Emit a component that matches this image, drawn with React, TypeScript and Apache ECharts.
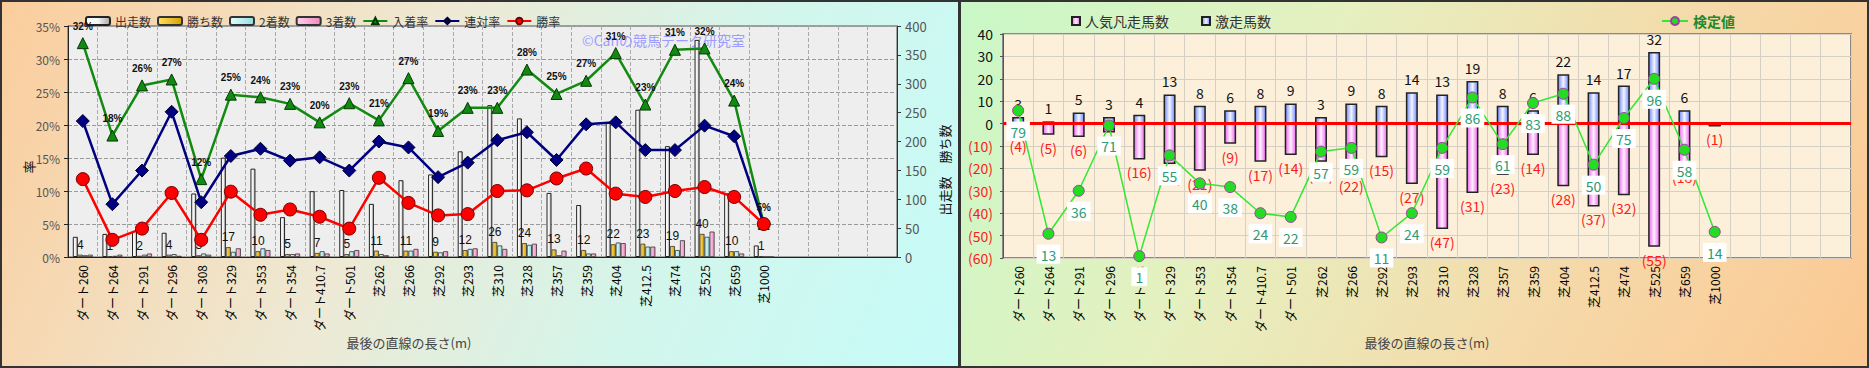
import React, { useEffect, useRef } from "react";
import * as echarts from "echarts";

const categories = [
  "ダート260", "ダート264", "ダート291", "ダート296", "ダート308", "ダート329",
  "ダート353", "ダート354", "ダート410.7", "ダート501", "芝262", "芝266",
  "芝292", "芝293", "芝310", "芝328", "芝357", "芝359", "芝404", "芝412.5",
  "芝474", "芝525", "芝659", "芝1000",
];
const emptySlots = ["", "", "", ""];

// left chart (counts on right axis, rates on left axis)
const starts = [35, 40, 45, 42, 110, 172, 153, 69, 114, 116, 92, 133, 143, 183, 263, 240, 111, 90, 233, 255, 192, 376, 110, 20];
const wins = [4, 1, 2, 4, 3, 17, 10, 5, 7, 5, 11, 11, 9, 12, 26, 24, 13, 12, 22, 23, 19, 40, 10, 1];
const seconds = [3, 2, 4, 5, 6, 9, 15, 5, 10, 10, 5, 11, 8, 14, 20, 21, 3, 6, 25, 18, 12, 35, 10, 0];
const thirds = [4, 4, 6, 2, 4, 15, 12, 6, 6, 12, 3, 14, 10, 15, 14, 23, 11, 6, 24, 18, 29, 44, 6, 0];
const placeRate = [32.4, 18.4, 26.0, 26.9, 11.8, 24.6, 24.2, 23.2, 20.4, 23.3, 20.7, 27.1, 19.1, 22.6, 22.6, 28.4, 24.7, 26.7, 30.9, 23.1, 31.4, 31.6, 23.7, 5.0];
const quinellaRate = [20.6, 8.0, 13.1, 22.0, 8.3, 15.3, 16.4, 14.6, 15.1, 13.1, 17.5, 16.6, 12.1, 14.3, 17.7, 18.9, 14.7, 20.1, 20.4, 16.2, 16.2, 19.9, 18.3, 5.0];
const winRate = [11.8, 2.6, 4.3, 9.7, 2.6, 9.9, 6.4, 7.2, 6.1, 4.3, 12.0, 8.2, 6.3, 6.5, 10.0, 10.1, 11.9, 13.4, 9.6, 9.1, 10.0, 10.6, 9.1, 5.0];

// right chart
const surgeCount = [3, 1, 5, 3, 4, 13, 8, 6, 8, 9, 3, 9, 8, 14, 13, 19, 8, 6, 22, 14, 17, 32, 6, 0];
const flopCount = [4, 5, 6, 4, 16, 18, 21, 9, 17, 14, 17, 22, 15, 27, 47, 31, 23, 14, 28, 37, 32, 55, 18, 1];
const testValue = [79, 13, 36, 71, 1, 55, 40, 38, 24, 22, 57, 59, 11, 24, 59, 86, 61, 83, 88, 50, 75, 96, 58, 14];

const FONT = "'Noto Sans CJK JP', 'Noto Sans', sans-serif";

const hGrad = (stops: [number, string][]) => ({
  type: "linear", x: 0, y: 0, x2: 1, y2: 0,
  colorStops: stops.map(([offset, color]) => ({ offset, color })),
});

export default function App() {
  const ref = useRef<HTMLDivElement>(null);

  useEffect(() => {
    if (!ref.current) return;
    const chart = echarts.init(ref.current, null, { renderer: "svg" });
    const xData = [...categories, ...emptySlots];

    const catAxisLabel = {
      rotate: 90, interval: 0, fontSize: 12, color: "#000", margin: 8, fontFamily: FONT,
    };

    const option: any = {
      animation: false,
      backgroundColor: "transparent",
      textStyle: { fontFamily: FONT },
      legend: [
        {
          left: 80, top: 10, itemWidth: 24, itemHeight: 8, itemGap: 6,
          textStyle: { fontSize: 12, color: "#333", fontFamily: FONT },
          data: ["出走数", "勝ち数", "2着数", "3着数", "入着率", "連対率", "勝率"],
        },
        {
          left: 1066, top: 9, icon: "rect", itemWidth: 8, itemHeight: 8, itemGap: 32,
          textStyle: { fontSize: 14, color: "#333", fontFamily: FONT },
          data: ["人気凡走馬数", "激走馬数"],
        },
        {
          left: 1656, top: 9, itemWidth: 26, itemHeight: 10,
          textStyle: { fontSize: 14, color: "#22882a", fontWeight: "bold", fontFamily: FONT },
          data: ["検定値"],
        },
      ],
      grid: [
        { left: 68, top: 26, width: 829, height: 231, show: true, backgroundColor: "#eeeeee", borderColor: "#555", borderWidth: 1 },
        { left: 1003, top: 34, width: 848, height: 224, show: true, backgroundColor: "#fcf0da", borderColor: "#8a8a8a", borderWidth: 2 },
      ],
      xAxis: [
        {
          type: "category", gridIndex: 0, data: xData,
          axisLabel: catAxisLabel,
          axisTick: { show: false },
          axisLine: { lineStyle: { color: "#222", width: 1 } },
          splitLine: { show: true, interval: 0, lineStyle: { color: "#aaa", type: "dashed" } },
        },
        {
          type: "category", gridIndex: 1, data: xData,
          axisLabel: catAxisLabel,
          axisTick: { show: false },
          axisLine: { lineStyle: { color: "#888", width: 1 } },
          splitLine: { show: true, interval: 0, lineStyle: { color: "#d6d0c4", width: 1 } },
        },
      ],
      yAxis: [
        {
          type: "value", gridIndex: 0, min: 0, max: 35, interval: 5,
          axisLabel: { formatter: "{value}%", color: "#555", fontSize: 12, margin: 8 },
          axisLine: { show: true, lineStyle: { color: "#222" } },
          axisTick: { show: true, length: 4, lineStyle: { color: "#222" } },
          splitLine: { show: true, lineStyle: { color: "#999", type: "dashed" } },
        },
        {
          type: "value", gridIndex: 0, position: "right", min: 0, max: 400, interval: 50,
          axisLabel: { color: "#555", fontSize: 13, margin: 8 },
          axisLine: { show: true, lineStyle: { color: "#333" } },
          axisTick: { show: true, length: 4, lineStyle: { color: "#333" } },
          splitLine: { show: false },
        },
        {
          type: "value", gridIndex: 1, min: -60, max: 40, interval: 10,
          axisLabel: {
            margin: 10,
            formatter: (v: number) => (v < 0 ? `{r|(${-v})}` : `{b|${v}}`),
            rich: {
              r: { color: "#ff1a1a", fontSize: 14, fontFamily: FONT },
              b: { color: "#111", fontSize: 14, fontFamily: FONT },
            },
          },
          axisLine: { show: true, lineStyle: { color: "#555" } },
          axisTick: { show: true, length: 3, lineStyle: { color: "#555" } },
          splitLine: { show: true, lineStyle: { color: "#d6d0c4", width: 1 } },
        },
        { type: "value", gridIndex: 1, min: 0, max: 120, show: false, splitLine: { show: false } },
      ],
      graphic: [
        {
          type: "text", x: 582, y: 40, z: 1,
          style: { text: "©Canの競馬データ研究室", fill: "#9c9cff", fontSize: 14, fontFamily: FONT, textAlign: "left", textVerticalAlign: "middle" },
        },
        {
          type: "text", x: 409, y: 342,
          style: { text: "最後の直線の長さ(m)", fill: "#444", fontSize: 13, fontFamily: FONT, textAlign: "center", textVerticalAlign: "middle" },
        },
        {
          type: "text", x: 1427, y: 342,
          style: { text: "最後の直線の長さ(m)", fill: "#444", fontSize: 13, fontFamily: FONT, textAlign: "center", textVerticalAlign: "middle" },
        },
        {
          type: "text", x: 28, y: 167, rotation: Math.PI / 2,
          style: { text: "率", fill: "#111", fontSize: 13, fontFamily: FONT, textAlign: "center", textVerticalAlign: "middle" },
        },
        {
          type: "text", x: 944, y: 170, rotation: Math.PI / 2,
          style: { text: "出走数　勝ち数", fill: "#111", fontSize: 13, fontFamily: FONT, textAlign: "center", textVerticalAlign: "middle" },
        },
      ],
      series: [
        {
          name: "出走数", type: "bar", xAxisIndex: 0, yAxisIndex: 1, data: starts,
          barWidth: 5, barGap: "0%", z: 2,
          itemStyle: { color: hGrad([[0, "#ffffff"], [0.5, "#f4f4f4"], [1, "#a8a8a8"]]), borderColor: "#222", borderWidth: 1 },
        },
        {
          name: "勝ち数", type: "bar", xAxisIndex: 0, yAxisIndex: 1, data: wins,
          barWidth: 5, barGap: "0%", z: 2,
          itemStyle: { color: hGrad([[0, "#ffe060"], [1, "#d8a000"]]), borderColor: "#333", borderWidth: 0.8 },
          label: { show: true, position: "top", distance: 4, fontSize: 12, color: "#111", fontFamily: "Liberation Sans, Arial, sans-serif" },
        },
        {
          name: "2着数", type: "bar", xAxisIndex: 0, yAxisIndex: 1, data: seconds,
          barWidth: 5, barGap: "0%", z: 2,
          itemStyle: { color: hGrad([[0, "#e4ffff"], [1, "#8fdde0"]]), borderColor: "#333", borderWidth: 0.8 },
        },
        {
          name: "3着数", type: "bar", xAxisIndex: 0, yAxisIndex: 1, data: thirds,
          barWidth: 5, barGap: "0%", z: 2,
          itemStyle: { color: hGrad([[0, "#ffd0e8"], [1, "#ee88c0"]]), borderColor: "#333", borderWidth: 0.8 },
        },
        {
          name: "入着率", type: "line", xAxisIndex: 0, yAxisIndex: 0, data: placeRate, z: 4,
          lineStyle: { color: "#128a12", width: 2.5 },
          symbol: "triangle", symbolSize: 11,
          itemStyle: { color: "#128a12", borderColor: "#033803", borderWidth: 1 },
          label: {
            show: true, position: "top", distance: 6, fontSize: 10, fontWeight: "bold", color: "#111",
            fontFamily: "Liberation Sans, Arial, sans-serif",
            formatter: (p: any) => `${Math.round(p.value)}%`,
          },
        },
        {
          name: "連対率", type: "line", xAxisIndex: 0, yAxisIndex: 0, data: quinellaRate, z: 4,
          lineStyle: { color: "#000080", width: 2.5 },
          symbol: "diamond", symbolSize: 13,
          itemStyle: { color: "#000080", borderColor: "#000030", borderWidth: 1 },
        },
        {
          name: "勝率", type: "line", xAxisIndex: 0, yAxisIndex: 0, data: winRate, z: 4,
          lineStyle: { color: "#ff0000", width: 2.5 },
          symbol: "circle", symbolSize: 13,
          itemStyle: { color: "#ff0000", borderColor: "#700000", borderWidth: 1 },
        },
        // right chart
        {
          name: "人気凡走馬数", type: "bar", xAxisIndex: 1, yAxisIndex: 2, stack: "r",
          data: flopCount.map((v) => -v), barWidth: 12, z: 2,
          itemStyle: { color: hGrad([[0, "#ee66ee"], [0.5, "#fff0ff"], [1, "#ee66ee"]]), borderColor: "#222", borderWidth: 1.5 },
          label: {
            show: true, position: "bottom", distance: 6, fontSize: 14, color: "#ff1a1a", fontFamily: FONT,
            formatter: (p: any) => `(${-p.value})`,
          },
        },
        {
          name: "激走馬数", type: "bar", xAxisIndex: 1, yAxisIndex: 2, stack: "r",
          data: surgeCount, barWidth: 12, z: 2,
          itemStyle: { color: hGrad([[0, "#7088ff"], [0.5, "#f4f6ff"], [1, "#7088ff"]]), borderColor: "#222", borderWidth: 1.5 },
          label: {
            show: true, position: "top", distance: 6, fontSize: 14, color: "#111", fontFamily: FONT,
            formatter: (p: any) => (p.value ? `${p.value}` : ""),
          },
          markLine: {
            silent: true, symbol: "none", z: 3,
            label: { show: false },
            lineStyle: { color: "#ff0000", width: 3, type: "solid" },
            data: [{ yAxis: 0 }],
          },
        },
        {
          name: "検定値", type: "line", xAxisIndex: 1, yAxisIndex: 3, data: testValue, z: 5,
          lineStyle: { color: "#33e833", width: 1.5 },
          symbol: "circle", symbolSize: 11,
          itemStyle: { color: "#22dd22", borderColor: "#a040a0", borderWidth: 1 },
          label: {
            show: true, position: "bottom", distance: 5, fontSize: 14, color: "#2f9a72",
            backgroundColor: "#ffffff", padding: [3, 4, 2, 4], fontFamily: FONT,
          },
        },
      ],
    };

    chart.setOption(option);
    return () => chart.dispose();
  }, []);

  return (
    <div style={{ position: "absolute", left: 0, top: 0, width: 1869, height: 368 }}>
      <div
        style={{
          position: "absolute", left: 0, top: 0, width: 956, height: 364,
          border: "2px solid #333",
          background: "linear-gradient(115deg, #fbcd9c 0%, #eee9d4 40%, #d2f6ec 70%, #c6fbf8 100%)",
        }}
      />
      <div
        style={{
          position: "absolute", left: 959, top: 0, width: 906, height: 364,
          border: "2px solid #333",
          background: "linear-gradient(120deg, #c8f8c6 0%, #e6f0c0 35%, #f6d8a8 70%, #fbc892 100%)",
        }}
      />
      <div ref={ref} style={{ position: "absolute", left: 0, top: 0, width: 1869, height: 368 }} />
    </div>
  );
}
